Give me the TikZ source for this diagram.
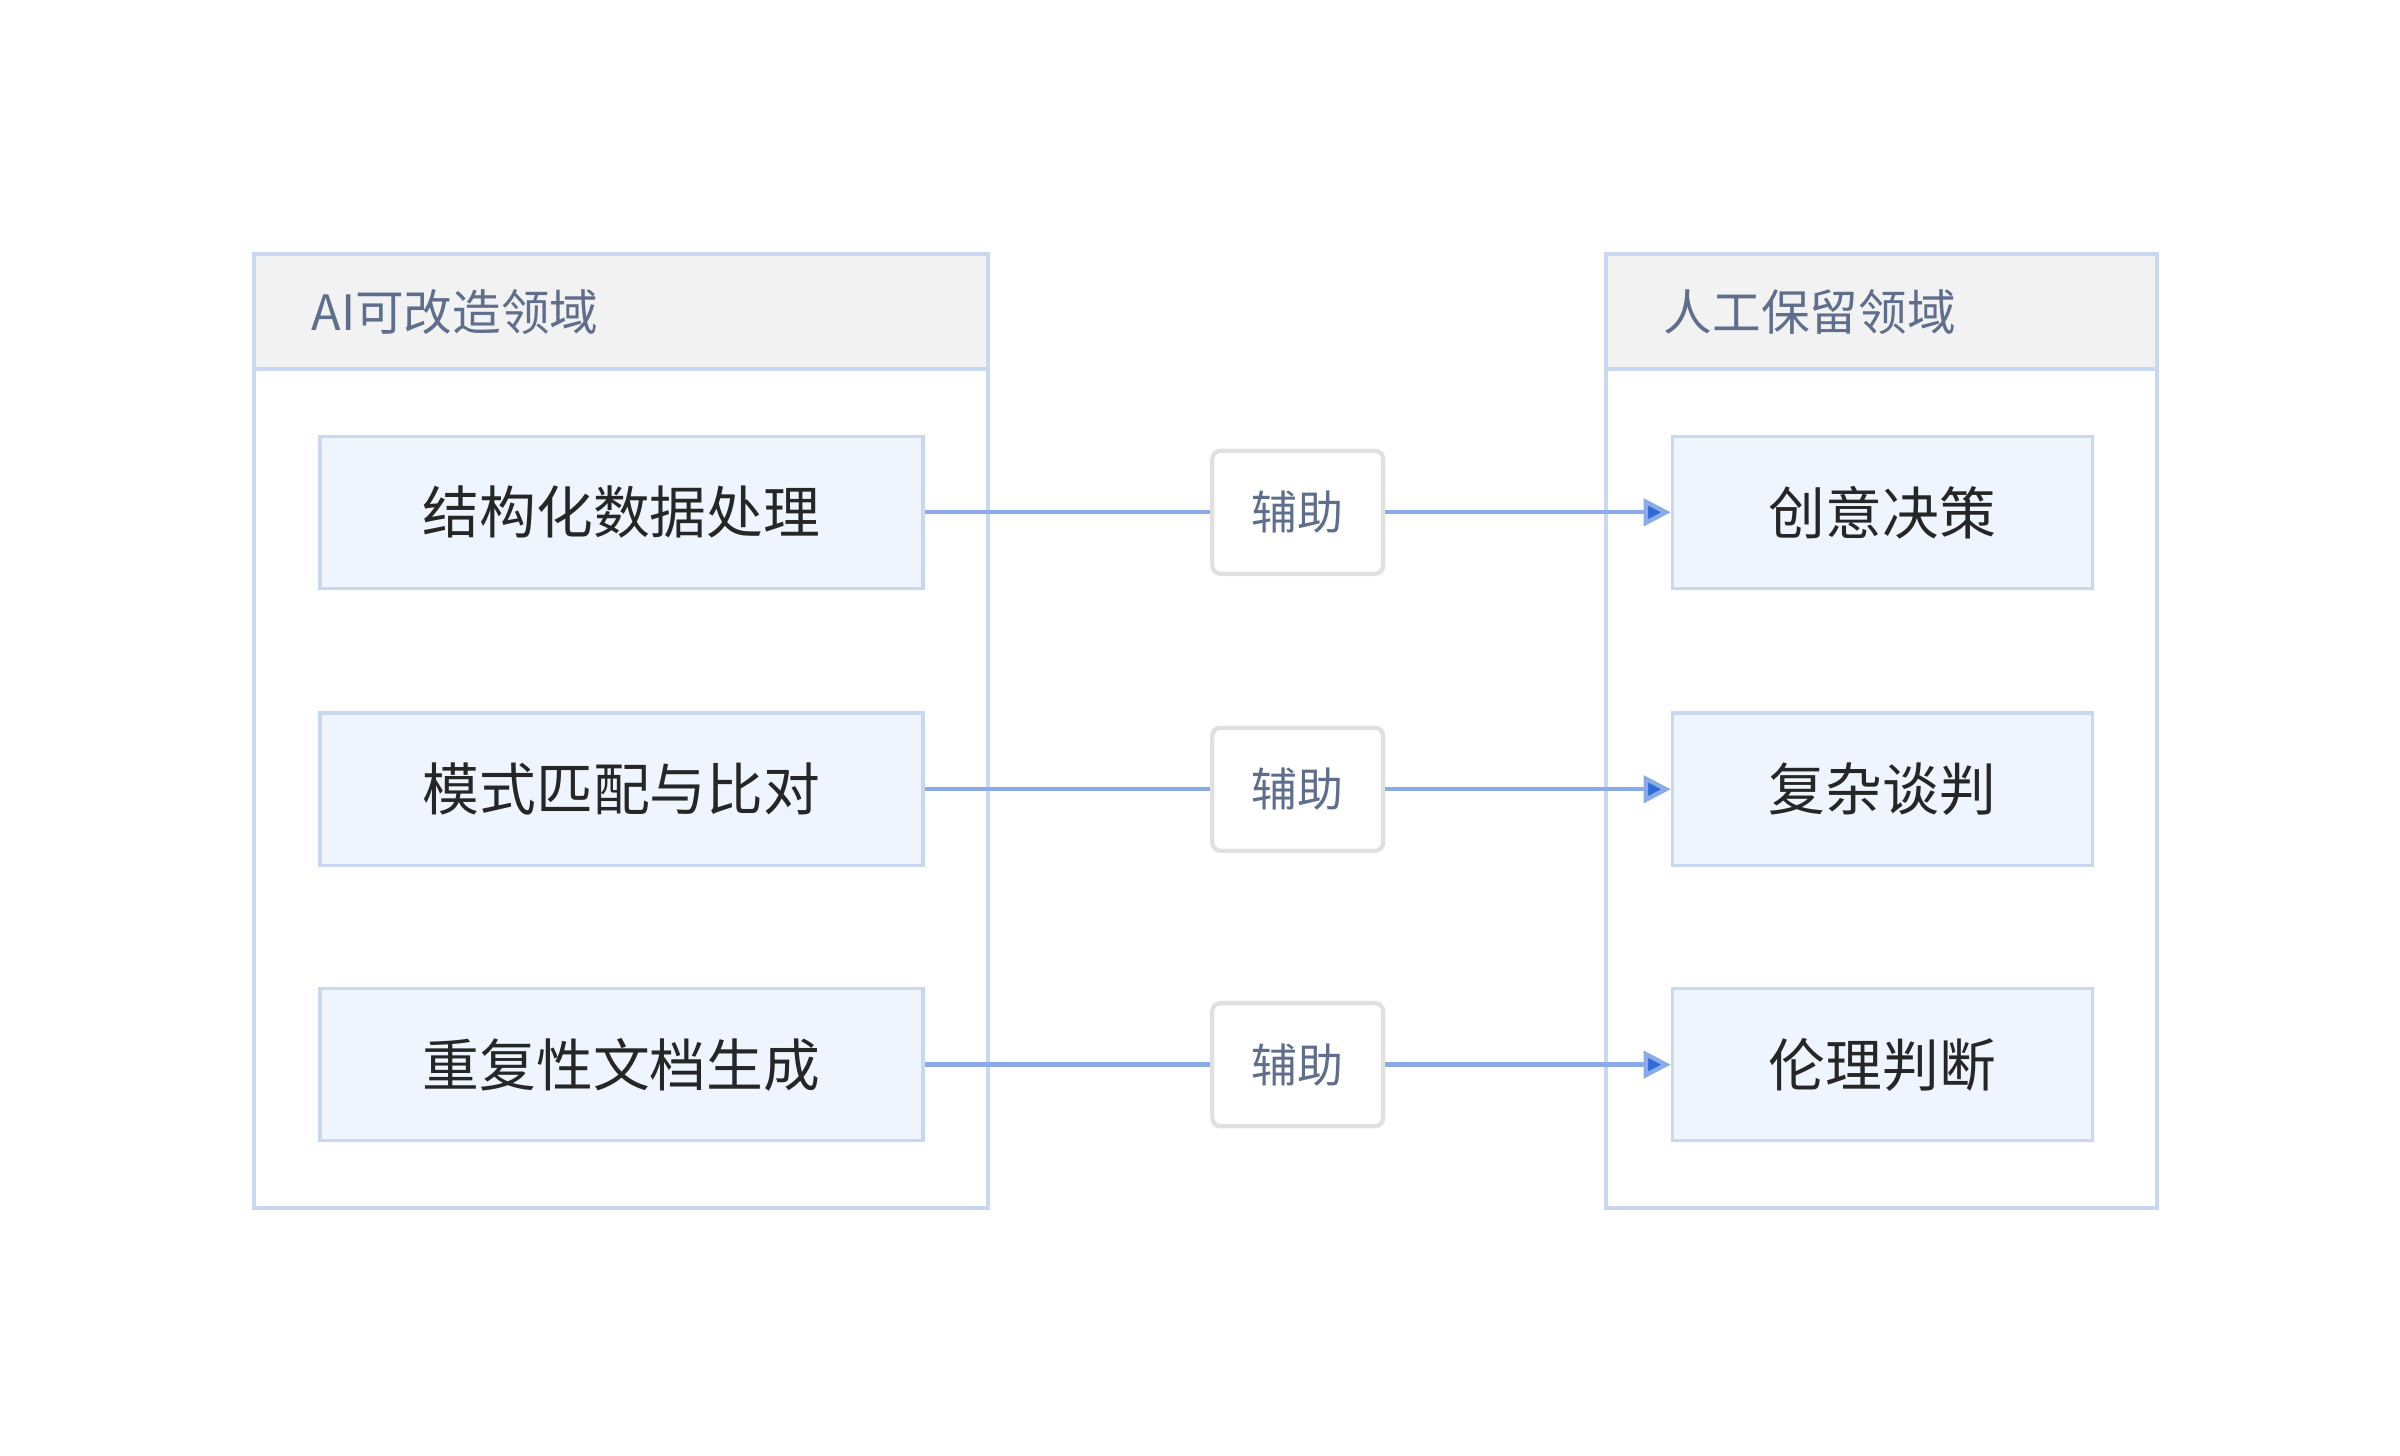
\documentclass[tikz,border=0pt]{standalone}
\usepackage{fontspec}
\newfontfamily\cjk{Noto Sans CJK SC}
\usetikzlibrary{arrows.meta,positioning}
\definecolor{boxline}{HTML}{C8D8F0}
\definecolor{boxfill}{HTML}{EFF5FE}
\definecolor{headfill}{HTML}{F2F2F2}
\definecolor{headtext}{HTML}{5E6E8C}
\definecolor{linkline}{HTML}{8AAAE8}
\definecolor{tipblue}{HTML}{2F6BD8}
\definecolor{midline}{HTML}{E0E0E0}
\tikzset{
  item/.style={draw=boxline,fill=boxfill,line width=0.6pt,minimum height=0.99cm,font=\cjk\fontsize{10.5}{12}\selectfont,text=black!85},
  mid/.style={draw=midline,rounded corners=1.5pt,line width=0.8pt,fill=white,minimum width=1.11cm,minimum height=0.8cm,font=\cjk\fontsize{8.5}{10}\selectfont,text=headtext},
  link/.style={draw=linkline,line width=0.8pt},
  head/.style={font=\cjk\fontsize{9}{11}\selectfont,text=headtext,anchor=west}
}
\begin{document}
\begin{tikzpicture}[x=1cm,y=-1cm]
  \useasboundingbox (0,0) rectangle (15.6,9.46);
  %容器
  \draw[boxline,line width=0.8pt] (1.65,1.65) rectangle (6.42,7.85);
  \draw[boxline,line width=0.8pt,fill=headfill] (1.65,1.65) rectangle (6.42,2.40);
  \node[head] (lefthead) at (1.9,2.03) {AI可改造领域};
  \draw[boxline,line width=0.8pt] (10.44,1.65) rectangle (14.02,7.85);
  \draw[boxline,line width=0.8pt,fill=headfill] (10.44,1.65) rectangle (14.02,2.40);
  \node[head] (righthead) at (10.69,2.03) {人工保留领域};
  %条目
  \foreach \i/\y/\a/\b in {1/3.33/结构化数据处理/创意决策,2/5.13/模式匹配与比对/复杂谈判,3/6.92/重复性文档生成/伦理判断}{
    \node[item,minimum width=3.92cm] (ai\i) at (4.04,\y) {\a};
    \node[item,minimum width=2.73cm] (hu\i) at (12.235,\y) {\b};
    \node[mid] (as\i) at (8.435,\y) {辅助};
    \draw[link] (ai\i) -- (as\i);
    \draw[link,-{Triangle[length=5pt,width=5pt,fill=tipblue]}] (as\i) -- (hu\i);
  }
\end{tikzpicture}
\end{document}
